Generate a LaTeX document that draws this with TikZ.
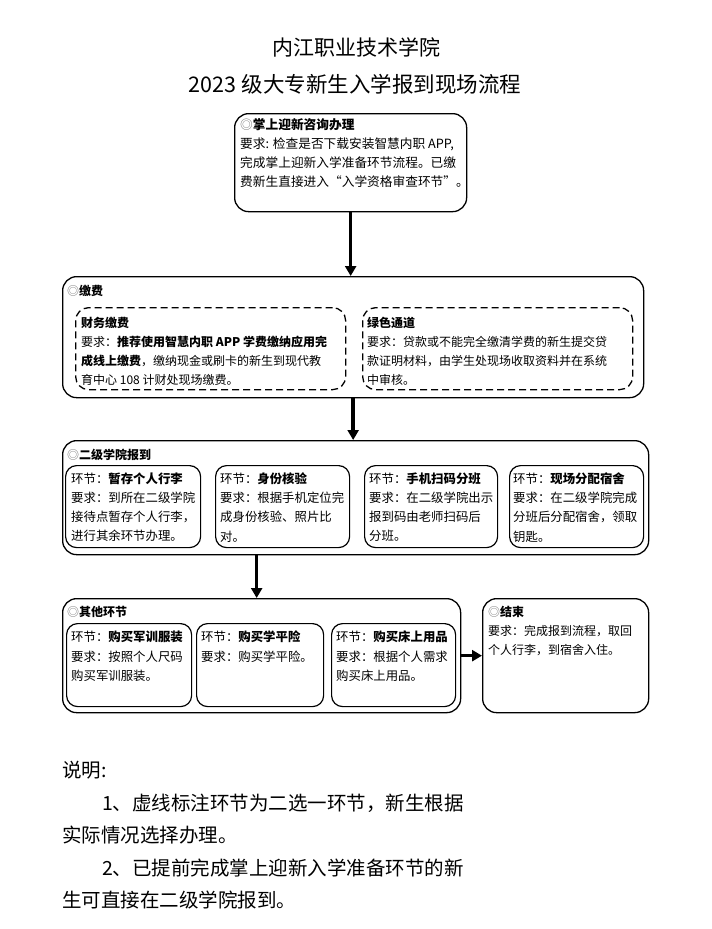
\documentclass[tikz,border=0pt]{standalone}
\usepackage{fontspec}
\setmainfont{Noto Sans CJK SC}
\usetikzlibrary{arrows.meta}
\newcommand{\circsym}{\textcolor{black!55}{◎}}
\begin{document}
\begin{tikzpicture}[x=1pt,y=-1pt,
  box/.style={draw, line width=1.3pt, rounded corners=14pt, anchor=north west, inner sep=0pt},
  ibox/.style={draw, line width=1.2pt, rounded corners=11pt, anchor=north west, inner sep=0pt},
  dbox/.style={draw, line width=1.3pt, dash pattern=on 7pt off 4pt, rounded corners=13pt, anchor=north west, inner sep=0pt},
  txt/.style={anchor=north west, inner sep=0pt, align=left, font=\fontsize{12}{19}\selectfont},
  ttxt/.style={anchor=north west, inner sep=0pt, align=left, font=\fontsize{12.7}{18.8}\selectfont},
  itxt/.style={anchor=north west, inner sep=0pt, align=left, font=\fontsize{12.4}{19.2}\selectfont},
  arr/.style={line width=3.5pt, -{Triangle[length=10pt,width=11pt]}}]
\useasboundingbox (0,0) rectangle (712,929);
% titles
\node[font=\fontsize{21}{21}\selectfont] (t1) at (356,47) {内江职业技术学院};
\node[font=\fontsize{21.5}{21.5}\selectfont] (t2) at (355,84) {2023 级大专新生入学报到现场流程};
% top box
\node[box, minimum width=232pt, minimum height=98pt] (top) at (234,113) {};
\node[ttxt] (toptxt) at (240,118.5) {\circsym\textbf{掌上迎新咨询办理}\\要求: 检查是否下载安装智慧内职 APP,\\完成掌上迎新入学准备环节流程。已缴\\费新生直接进入“入学资格审查环节”。};
% payment
\node[box, minimum width=581pt, minimum height=121pt] (jf) at (62,276) {};
\node[txt] (jftxt) at (67,285) {\circsym\textbf{缴费}};
\node[dbox, minimum width=270pt, minimum height=82pt] (cw) at (75,307) {};
\node[txt] (cwtxt) at (81,317) {\textbf{财务缴费}\\要求：\textbf{推荐使用智慧内职 APP 学费缴纳应用完}\\\textbf{成线上缴费}，缴纳现金或刷卡的新生到现代教\\育中心 108 计财处现场缴费。};
\node[dbox, minimum width=270pt, minimum height=82pt] (ls) at (362,307) {};
\node[txt] (lstxt) at (367,317) {\textbf{绿色通道}\\要求：贷款或不能完全缴清学费的新生提交贷\\款证明材料，由学生处现场收取资料并在系统\\中审核。};
% college
\node[box, minimum width=586pt, minimum height=114pt] (ej) at (62,440) {};
\node[txt] (ejtxt) at (67,449) {\circsym\textbf{二级学院报到}};
\node[ibox, minimum width=135pt, minimum height=82pt] (e1) at (65,465) {};
\node[itxt] (e1t) at (71,472.5) {环节：\textbf{暂存个人行李}\\要求：到所在二级学院\\接待点暂存个人行李，\\进行其余环节办理。};
\node[ibox, minimum width=134pt, minimum height=82pt] (e2) at (215,465) {};
\node[itxt] (e2t) at (220,472.5) {环节：\textbf{身份核验}\\要求：根据手机定位完\\成身份核验、照片比\\对。};
\node[ibox, minimum width=133pt, minimum height=82pt] (e3) at (364,465) {};
\node[itxt] (e3t) at (369,472.5) {环节：\textbf{手机扫码分班}\\要求：在二级学院出示\\报到码由老师扫码后\\分班。};
\node[ibox, minimum width=134pt, minimum height=82pt] (e4) at (509,465) {};
\node[itxt] (e4t) at (513,472.5) {环节：\textbf{现场分配宿舍}\\要求：在二级学院完成\\分班后分配宿舍，领取\\钥匙。};
% other
\node[box, minimum width=398pt, minimum height=114pt] (qt) at (62,598) {};
\node[txt] (qttxt) at (67,606) {\circsym\textbf{其他环节}};
\node[ibox, minimum width=125pt, minimum height=83pt] (q1) at (66,623) {};
\node[itxt] (q1t) at (71,631) {环节：\textbf{购买军训服装}\\要求：按照个人尺码\\购买军训服装。};
\node[ibox, minimum width=127pt, minimum height=83pt] (q2) at (196,623) {};
\node[itxt] (q2t) at (201,631) {环节：\textbf{购买学平险}\\要求：购买学平险。};
\node[ibox, minimum width=124pt, minimum height=83pt] (q3) at (331,623) {};
\node[itxt] (q3t) at (336,631) {环节：\textbf{购买床上用品}\\要求：根据个人需求\\购买床上用品。};
% end
\node[box, minimum width=166pt, minimum height=114pt] (end) at (482,598) {};
\node[txt] (endtxt) at (488,606) {\circsym\textbf{结束}\\要求：完成报到流程，取回\\个人行李，到宿舍入住。};
% arrows
\draw[arr] (top.south) -- (top.south |- jf.north);
\draw[arr] (jf.south) -- (jf.south |- ej.north);
\coordinate (a3) at ([xshift=-5pt]qt.north);
\draw[arr] (a3 |- ej.south) -- (a3);
\draw[arr] (qt.east) -- (end.west);
% notes
\node[anchor=north west, inner sep=0pt, align=left, font=\fontsize{19.5}{32.5}\selectfont] (notes) at (62,761) {说明:\\\hspace{2.05em}1、虚线标注环节为二选一环节，新生根据\\实际情况选择办理。\\\hspace{2.05em}2、已提前完成掌上迎新入学准备环节的新\\生可直接在二级学院报到。};
\end{tikzpicture}
\end{document}
